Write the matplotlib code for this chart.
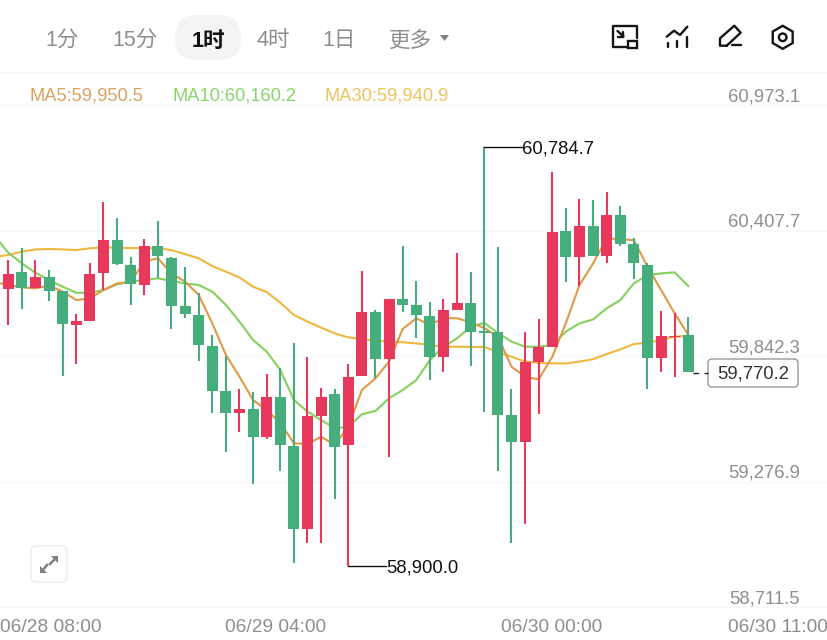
import numpy as np
import matplotlib
matplotlib.use("Agg")
import matplotlib.pyplot as plt
import matplotlib.patches as mpatches

plt.rcParams['font.family'] = ['Liberation Sans', 'Noto Sans CJK SC', 'DejaVu Sans']

opens = [60145, 60221, 60151, 60200, 60136, 59984, 60002, 60218, 60365, 60253,
         60164, 60337, 60286, 60067, 60028, 59888, 59686, 59585, 59603, 59477,
         59657, 59440, 59066, 59573, 59672, 59443, 59753, 60041, 59828, 60100,
         60073, 60025, 59839, 60050, 60080, 59954, 59953, 59576, 59458, 59816,
         59885, 60407, 60289, 60430, 60295, 60478, 60347, 60253, 59836, 59930,
         59938]
closes = [60212, 60151, 60200, 60136, 59986, 60001, 60212, 60365, 60257, 60166,
          60337, 60292, 60070, 60031, 59893, 59687, 59587, 59603, 59480, 59657,
          59443, 59066, 59573, 59660, 59434, 59749, 60041, 59828, 60100, 60074,
          60028, 59839, 60050, 60082, 59953, 59949, 59578, 59458, 59816, 59882,
          60403, 60289, 60430, 60295, 60478, 60347, 60263, 59836, 59933, 59935,
          59770.2]
highs = [60275, 60331, 60275, 60230, 60136, 60032, 60260, 60538, 60466, 60287,
         60370, 60449, 60287, 60245, 60126, 59938, 59845, 59693, 59683, 59761,
         59788, 59903, 59840, 59698, 59693, 59806, 60227, 60050, 60100, 60340,
         60182, 60088, 60098, 60308, 60220, 60784.7, 60335, 59693, 59953, 60010,
         60670, 60508, 60548, 60545, 60580, 60520, 60373, 60263, 60046, 60038,
         60017]
lows = [59983, 60055, 60149, 60091, 59755, 59807, 60001, 60140, 60253, 60073,
        60118, 60194, 59965, 60013, 59821, 59586, 59411, 59503, 59267, 59469,
        59326, 58910, 59000, 59000, 59199, 58900.0, 59753, 59743, 59390, 60043,
        59923, 59735, 59773, 60050, 59800, 59593, 59326, 59000, 59086, 59582,
        59885, 60175, 60158, 60295, 60260, 60340, 60188, 59693, 59770, 59750,
        59770.2]

# moving averages start one candle left of the first visible one
ma5 = [60176, 60163, 60152, 60148, 60161, 60133, 60095, 60103, 60140, 60170, 60178,
       60268, 60283, 60215, 60178, 60118, 59990, 59848, 59750, 59645, 59600,
       59542, 59450, 59447, 59480, 59443, 59525, 59690, 59743, 59818, 59965,
       60013, 59983, 60014, 60013, 59995, 59969, 59930, 59795, 59750, 59738,
       59840, 59992, 60163, 60260, 60374, 60368, 60365, 60245, 60140, 60035,
       59938]
ma10 = [60383, 60308, 60260, 60218, 60185, 60155, 60128, 60128, 60140, 60166, 60178,
        60185, 60193, 60181, 60170, 60163, 60133, 60073, 59998, 59915, 59863,
        59780, 59645, 59593, 59555, 59518, 59525, 59581, 59596, 59653, 59690,
        59735, 59825, 59885, 59923, 59975, 59992, 59947, 59908, 59885, 59885,
        59893, 59953, 59990, 60008, 60058, 60095, 60170, 60208, 60215, 60220,
        60158]
ma30 = [60289, 60298, 60313, 60323, 60325, 60323, 60320, 60328, 60332, 60331, 60329,
        60329, 60329, 60320, 60302, 60283, 60248, 60223, 60197, 60155, 60131,
        60083, 60028, 59998, 59971, 59945, 59927, 59920, 59912, 59908, 59905,
        59900, 59893, 59885, 59885, 59884, 59884, 59861, 59840, 59818, 59813,
        59810, 59810, 59818, 59829, 59852, 59873, 59897, 59903, 59915, 59930,
        59935]

price_ticks = [60973.1, 60407.7, 59842.3, 59276.9, 58711.5]
date_labels = ["06/28 08:00", "06/29 04:00", "06/30 00:00", "06/30 11:00"]
tabs = ["1分", "15分", "1时", "4时", "1日", "更多"]
ma_labels = ["MA5:59,950.5", "MA10:60,160.2", "MA30:59,940.9"]

RED = "#e8395c"
GREEN = "#46ae7c"
C_MA5 = "#e09a45"
C_MA10 = "#84d15c"
C_MA30 = "#efb73e"
GRAY = "#8e8e8e"

fig = plt.figure(figsize=(8.28, 6.4), dpi=100, facecolor="white")
ax = fig.add_axes([0, 0, 1, 1])
ax.axis("off")
# one candle is 13.6px wide, first centre at x=8.3; 125.6px per 565.4 of price
ax.set_xlim(-8.3 / 13.6, (828 - 8.3) / 13.6)
ax.set_ylim(61445.8 - 4.5016 * 640, 61445.8)

for p in price_ticks:
    ax.axhline(p, color="#f8f8f8", lw=1, zorder=0)
    ax.annotate(f"{p:,.1f}", (800 / 828, p), xycoords=ax.get_yaxis_transform(),
                xytext=(0, 6), textcoords="offset points", ha="right", va="center",
                fontsize=13.3, color=GRAY)

xs = np.arange(len(opens))
xs_ma = np.arange(len(ma5)) - 1
ax.plot(xs_ma, ma30, color=C_MA30, lw=1.5, zorder=1)
ax.plot(xs_ma, ma10, color=C_MA10, lw=1.5, zorder=1.1)
ax.plot(xs_ma, ma5, color=C_MA5, lw=1.5, zorder=1.2)

colors = [RED if c >= o else GREEN for o, c in zip(opens, closes)]
ax.vlines(xs, lows, highs, colors=colors, lw=1.5, zorder=2)
ax.bar(xs, np.abs(np.subtract(closes, opens)), bottom=np.minimum(opens, closes),
       width=0.8, color=colors, zorder=3)

# high / low leaders
i_hi = int(np.argmax(highs))
i_lo = int(np.argmin(lows))
for i, val in [(i_hi, highs[i_hi]), (i_lo, lows[i_lo])]:
    ax.plot([i, i + 2.8], [val, val], color="#111111", lw=1, zorder=4)
    ax.annotate(f"{val:,.1f}", (i, val), xytext=(27.5, -1.5), textcoords="offset points",
                va="center", ha="left", fontsize=13.3, color="#111111")

# pixel overlay for the app chrome
ui = fig.add_axes([0, 0, 1, 1], facecolor="none")
ui.set_xlim(0, 828)
ui.set_ylim(640, 0)
ui.axis("off")

# last price tag
ui.plot([693, 708], [373, 373], color="#222222", lw=1, ls=(0, (4, 4)))
ui.add_patch(mpatches.FancyBboxPatch((708, 359), 90, 28, boxstyle="round,pad=0,rounding_size=4",
                                     fc="white", ec="#9a9a9a", lw=1))
ui.text(753, 374, f"{closes[-1]:,.1f}", ha="center", va="center", fontsize=13.3, color="#333333")

ui.plot([0, 828], [72, 72], color="#f8f8f8", lw=1)
ui.add_patch(mpatches.FancyBboxPatch((175, 15), 66, 45, boxstyle="round,pad=0,rounding_size=22",
                                     fc="#f4f4f4", ec="none"))
tab_x = [62, 135, 208, 273, 339, 410]
for t, x in zip(tabs, tab_x):
    active = t == "1时"
    ui.text(x, 41, t, ha="center", va="center", fontsize=15.5,
            color="#111111" if active else GRAY, fontweight="bold" if active else "normal")
ui.add_patch(mpatches.Polygon([(440, 35), (449, 35), (444.5, 41)], fc="#808080", ec="none"))

for label, x, c in zip(ma_labels, [30, 173, 325], ["#dba261", "#8bd46a", "#eec45f"]):
    ui.text(x, 96, label, ha="left", va="center", fontsize=13.2, color=c)

for label, x, ha in zip(date_labels, [0, 275.5, 551.5, 828], ["left", "center", "center", "right"]):
    ui.text(x, 628, label, ha=ha, va="center", fontsize=13.8, color=GRAY)

# toolbar icons
ink = dict(color="#151515", lw=1.7, solid_capstyle="round", solid_joinstyle="round")
ui.plot([628, 613, 613, 637, 637], [47, 47, 26, 26, 38], **ink)
ui.add_patch(mpatches.Rectangle((628.5, 41), 8.5, 6.5, fc="white", ec="#151515", lw=1.7))
ui.plot([617.5, 623.5], [31, 36.5], **ink)
ui.plot([618.5, 623.5, 623.5], [36.5, 36.5, 32], **ink)
ui.plot([666.7, 674, 680, 687.3], [36.7, 30.7, 35, 26.7], **ink)
for x, y0 in [(668.3, 42.7), (677.3, 40.7), (686.7, 37.3)]:
    ui.plot([x, x], [y0, 46.7], **ink)
ui.plot([726.7, 720, 720, 734.3, 740.7, 726.7], [45.7, 45.7, 38.3, 25.7, 32.7, 45.7], **ink)
ui.plot([732, 741], [45.3, 45.3], **ink)
ui.add_patch(mpatches.RegularPolygon((782.7, 37.3), 6, radius=11.5, fc="none", ec="#151515", lw=1.7))
ui.add_patch(mpatches.Circle((782.7, 37.3), 3.8, fc="none", ec="#151515", lw=1.7))

# expand button
ui.add_patch(mpatches.FancyBboxPatch((31, 546), 36, 36, boxstyle="round,pad=0,rounding_size=5",
                                     fc="white", ec="#f0f0f0", lw=1.2))
ui.plot([50, 56], [564, 558], color="#808080", lw=1.8)
ui.plot([47, 42], [565, 571], color="#808080", lw=1.8)
ui.add_patch(mpatches.Polygon([(51, 556), (58, 556), (58, 563)], fc="#808080", ec="none"))
ui.add_patch(mpatches.Polygon([(40, 566), (40, 573), (47, 573)], fc="#808080", ec="none"))

fig.savefig("out.png", dpi=100)
